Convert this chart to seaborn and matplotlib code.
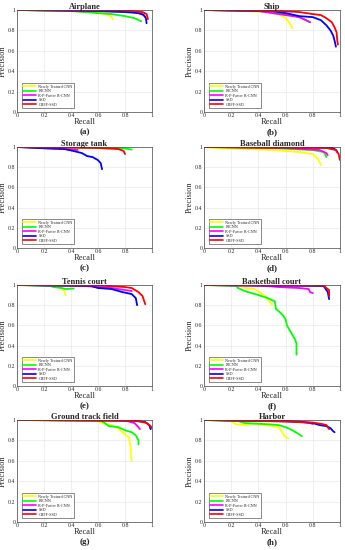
"""
Precision-recall curves of five detectors on eight object classes.
"""

import numpy as np
import pandas as pd
import matplotlib
matplotlib.use("Agg")
import matplotlib.pyplot as plt
from matplotlib.ticker import FuncFormatter
import seaborn as sns

METHODS = ["Newly Trained CNN", "RICNN", "R-P-Faster R-CNN", "SSD", "CBFF-SSD"]
COLORS = ["#FFFF00", "#00FF00", "#FF00FF", "#0000FF", "#FF0000"]
TITLES = ["Airplane", "Ship", "Storage tank", "Baseball diamond",
          "Tennis court", "Basketball court", "Ground track field", "Harbor"]
TAGS = ["(a)", "(b)", "(c)", "(d)", "(e)", "(f)", "(g)", "(h)"]
TICKS = [0, 0.2, 0.4, 0.6, 0.8, 1.0]

# (recall, precision) points
AIRPLANE_CNN = [(0, 1), (0.4, 0.99), (0.55, 0.98), (0.65, 0.96), (0.68, 0.95), (0.7, 0.93), (0.71, 0.91)]
AIRPLANE_RICNN = [(0, 1), (0.4, 0.99), (0.6, 0.97), (0.7, 0.96), (0.8, 0.94), (0.87, 0.92), (0.92, 0.89)]
AIRPLANE_RPF = [(0, 1), (0.6, 0.99), (0.85, 0.98), (0.93, 0.96), (0.95, 0.93)]
AIRPLANE_SSD = [(0, 1), (0.6, 0.99), (0.8, 0.98), (0.9, 0.97), (0.94, 0.95), (0.955, 0.92), (0.96, 0.87)]
AIRPLANE_CBFF = [(0, 1), (0.8, 0.995), (0.93, 0.98), (0.96, 0.96), (0.97, 0.91)]

SHIP_CNN = [(0, 1), (0.3, 0.99), (0.45, 0.98), (0.55, 0.96), (0.6, 0.92), (0.63, 0.87), (0.65, 0.82)]
SHIP_RICNN = [(0, 1), (0.4, 0.99), (0.55, 0.97), (0.65, 0.95), (0.72, 0.92), (0.78, 0.88)]
SHIP_RPF = [(0, 1), (0.4, 0.99), (0.5, 0.97), (0.6, 0.95), (0.7, 0.93), (0.75, 0.9), (0.78, 0.88)]
SHIP_SSD = [(0, 1), (0.5, 0.99), (0.6, 0.97), (0.7, 0.94), (0.8, 0.93), (0.86, 0.9), (0.9, 0.85),
            (0.93, 0.8), (0.95, 0.75), (0.96, 0.7), (0.97, 0.64)]
SHIP_CBFF = [(0, 1), (0.55, 0.99), (0.7, 0.98), (0.8, 0.96), (0.86, 0.95), (0.9, 0.92), (0.94, 0.88),
             (0.96, 0.83), (0.975, 0.78), (0.98, 0.7), (0.985, 0.66)]

TANK_CNN = [(0, 1), (0.5, 0.99), (0.7, 0.985), (0.78, 0.98)]
TANK_RICNN = [(0, 1), (0.5, 0.995), (0.7, 0.99), (0.8, 0.985), (0.85, 0.975)]
TANK_RPF = [(0, 1), (0.2, 0.99), (0.35, 0.98), (0.45, 0.97)]
TANK_SSD = [(0, 1), (0.23, 0.985), (0.35, 0.98), (0.42, 0.96), (0.48, 0.94), (0.52, 0.91),
            (0.56, 0.9), (0.6, 0.87), (0.62, 0.84), (0.63, 0.78)]
TANK_CBFF = [(0, 1), (0.6, 0.99), (0.75, 0.98), (0.79, 0.96), (0.8, 0.93)]

BASEBALL_CNN = [(0, 1), (0.1, 0.985), (0.3, 0.98), (0.5, 0.97), (0.7, 0.95), (0.8, 0.93), (0.84, 0.88), (0.86, 0.82)]
BASEBALL_RICNN = [(0, 1), (0.5, 0.99), (0.8, 0.97), (0.88, 0.95), (0.89, 0.93), (0.9, 0.9)]
BASEBALL_RPF = [(0, 1), (0.6, 0.99), (0.85, 0.97), (0.9, 0.94), (0.91, 0.92)]
BASEBALL_SSD = [(0, 1), (0.8, 0.995), (0.95, 0.99), (0.97, 0.97), (0.98, 0.95)]
BASEBALL_CBFF = [(0, 1), (0.9, 0.99), (0.97, 0.97), (0.99, 0.93), (1.0, 0.87)]

TENNIS_CNN = [(0, 1), (0.3, 0.99), (0.33, 0.97), (0.35, 0.94), (0.36, 0.9)]
TENNIS_RICNN = [(0, 1), (0.25, 0.99), (0.27, 0.98), (0.33, 0.97), (0.36, 0.96), (0.42, 0.965)]
TENNIS_RPF = [(0, 1), (0.5, 0.99), (0.7, 0.97), (0.8, 0.95), (0.85, 0.94)]
TENNIS_SSD = [(0, 1), (0.55, 0.99), (0.6, 0.97), (0.7, 0.96), (0.78, 0.93), (0.85, 0.91), (0.88, 0.87), (0.89, 0.8)]
TENNIS_CBFF = [(0, 1), (0.6, 0.995), (0.8, 0.98), (0.85, 0.97), (0.9, 0.93), (0.93, 0.89), (0.95, 0.81)]

BASKET_CNN = [(0, 1), (0.27, 0.99), (0.3, 0.97), (0.37, 0.96), (0.42, 0.92), (0.45, 0.89), (0.48, 0.84), (0.5, 0.8)]
BASKET_RICNN = [(0, 1), (0.24, 0.99), (0.25, 0.97), (0.3, 0.94), (0.4, 0.9), (0.47, 0.87), (0.5, 0.85),
                (0.52, 0.84), (0.53, 0.76), (0.55, 0.74), (0.58, 0.7), (0.6, 0.66), (0.61, 0.6),
                (0.64, 0.53), (0.67, 0.46), (0.68, 0.42), (0.68, 0.31)]
BASKET_RPF = [(0, 1), (0.45, 0.99), (0.55, 0.98), (0.7, 0.97), (0.77, 0.96), (0.78, 0.93), (0.8, 0.92)]
BASKET_SSD = [(0, 1), (0.88, 0.99), (0.9, 0.95), (0.91, 0.93), (0.92, 0.86)]
BASKET_CBFF = [(0, 1), (0.88, 0.995), (0.9, 0.97), (0.92, 0.95), (0.92, 0.89)]

TRACK_CNN = [(0, 1), (0.6, 0.99), (0.63, 0.97), (0.7, 0.95), (0.75, 0.92), (0.78, 0.88), (0.8, 0.86),
             (0.83, 0.83), (0.84, 0.75), (0.85, 0.6)]
TRACK_RICNN = [(0, 1), (0.62, 0.995), (0.65, 0.97), (0.68, 0.94), (0.75, 0.93), (0.8, 0.9), (0.85, 0.88),
               (0.88, 0.85), (0.9, 0.8), (0.9, 0.76)]
TRACK_RPF = [(0, 1), (0.8, 0.995), (0.87, 0.97), (0.9, 0.93), (0.91, 0.91)]
TRACK_SSD = [(0, 1), (0.85, 0.995), (0.95, 0.98), (0.98, 0.95), (0.99, 0.91)]
TRACK_CBFF = [(0, 1), (0.9, 0.99), (0.96, 0.97), (0.99, 0.94), (1.0, 0.92)]

HARBOR_CNN = [(0, 1), (0.2, 0.99), (0.23, 0.96), (0.3, 0.95), (0.35, 0.96), (0.45, 0.95), (0.55, 0.93),
              (0.58, 0.87), (0.6, 0.83), (0.62, 0.82)]
HARBOR_RICNN = [(0, 1), (0.25, 0.99), (0.3, 0.97), (0.45, 0.96), (0.55, 0.95), (0.6, 0.93), (0.65, 0.9),
                (0.7, 0.86), (0.72, 0.84)]
HARBOR_RPF = [(0, 1), (0.6, 0.99), (0.78, 0.97), (0.8, 0.96)]
HARBOR_SSD = [(0, 1), (0.5, 0.99), (0.7, 0.985), (0.8, 0.97), (0.85, 0.95), (0.9, 0.94), (0.93, 0.92),
              (0.95, 0.89), (0.96, 0.88)]
HARBOR_CBFF = [(0, 1), (0.6, 0.985), (0.8, 0.975), (0.87, 0.96), (0.9, 0.95), (0.92, 0.91)]

PANEL_CURVES = [
    [AIRPLANE_CNN, AIRPLANE_RICNN, AIRPLANE_RPF, AIRPLANE_SSD, AIRPLANE_CBFF],
    [SHIP_CNN, SHIP_RICNN, SHIP_RPF, SHIP_SSD, SHIP_CBFF],
    [TANK_CNN, TANK_RICNN, TANK_RPF, TANK_SSD, TANK_CBFF],
    [BASEBALL_CNN, BASEBALL_RICNN, BASEBALL_RPF, BASEBALL_SSD, BASEBALL_CBFF],
    [TENNIS_CNN, TENNIS_RICNN, TENNIS_RPF, TENNIS_SSD, TENNIS_CBFF],
    [BASKET_CNN, BASKET_RICNN, BASKET_RPF, BASKET_SSD, BASKET_CBFF],
    [TRACK_CNN, TRACK_RICNN, TRACK_RPF, TRACK_SSD, TRACK_CBFF],
    [HARBOR_CNN, HARBOR_RICNN, HARBOR_RPF, HARBOR_SSD, HARBOR_CBFF],
]

sns.set_style("whitegrid", {"grid.color": "#e3e3e3", "axes.edgecolor": "black"})
plt.rcParams["font.family"] = ["Liberation Serif", "DejaVu Serif"]

fig = plt.figure(figsize=(3.45, 5.5), dpi=100)

# axes boxes in pixels: (left, right) and (top, bottom)
COL_X = [(17, 152), (204, 340)]
ROW_Y = [(10, 112), (147, 248), (285, 386), (420, 522)]
W, H = 345.0, 550.0

palette = dict(zip(METHODS, COLORS))
fmt = FuncFormatter(lambda v, _: f"{v:g}")

for i, curves in enumerate(PANEL_CURVES):
    row, col = divmod(i, 2)
    x0, x1 = COL_X[col]
    y0, y1 = ROW_Y[row]
    ax = fig.add_axes([x0 / W, 1 - y1 / H, (x1 - x0) / W, (y1 - y0) / H])

    rows = []
    for m, pts in zip(METHODS, curves):
        for k, (r, p) in enumerate(pts):
            rows.append({"recall": r, "precision": p, "method": m, "k": k})
    df = pd.DataFrame(rows)

    sns.lineplot(data=df, x="recall", y="precision", hue="method", hue_order=METHODS,
                 palette=palette, sort=False, estimator=None, lw=1.3, ax=ax)

    ax.set_xlim(0, 1)
    ax.set_ylim(0, 1)
    ax.set_xticks(TICKS)
    ax.set_yticks(TICKS)
    ax.xaxis.set_major_formatter(fmt)
    ax.yaxis.set_major_formatter(fmt)
    ax.tick_params(labelsize=4.2, pad=1, length=0)
    ax.grid(True, lw=0.4)
    for s in ax.spines.values():
        s.set_linewidth(0.5)
        s.set_color("#444444")
    ax.set_title(TITLES[i], fontsize=6, fontweight="bold", pad=1)
    ax.set_xlabel("Recall", fontsize=6, labelpad=0)
    ax.set_ylabel("Precision", fontsize=6, labelpad=1)

    # subfigure tag, centred 20 px under the axes
    tag_y = (y1 + 20 - y0) / (y1 - y0)
    ax.text(0.5, 1 - tag_y, TAGS[i], transform=ax.transAxes, ha="center", va="center",
            fontsize=6.5, fontweight="bold")

    leg = ax.legend(loc="lower left", fontsize=3, handlelength=3.2, handletextpad=0.5,
                    labelspacing=0.12, borderpad=0.3, frameon=True, fancybox=False,
                    bbox_to_anchor=(0.02, 0.02))
    leg.get_frame().set_edgecolor("black")
    leg.get_frame().set_linewidth(0.4)
    for line in leg.get_lines():
        line.set_linewidth(1.2)

fig.savefig("out.png", dpi=100)
